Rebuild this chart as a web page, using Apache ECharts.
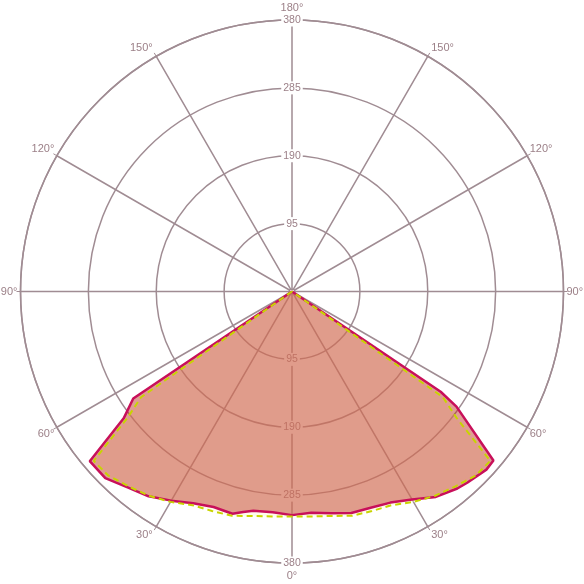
<!DOCTYPE html>
<html><head><meta charset="utf-8">
<script src="https://cdn.jsdelivr.net/npm/echarts@6/dist/echarts.min.js"></script>
<style>html,body{margin:0;padding:0;background:#fff}#c{width:584px;height:584px}</style>
</head><body><div id="c"></div>
<script>
// radius scale / ticks
const radiusMax = 380;
const radiusStep = 95;
const angleStep = 30;

// red (solid) curve, angle measured from the downward direction (degrees)
const redRightAngles = [0, 5, 10, 15, 20, 25, 30, 35, 40, 42.5, 47.5, 50, 55, 56, 60];
const redRightValues = [313, 311, 315, 321, 322, 326, 336, 351, 360, 363, 369, 368, 281, 251, 0];
const redLeftAngles  = [0, 5, 10, 12.5, 15, 20, 25, 30, 35, 40, 45, 50, 53, 56, 60];
const redLeftValues  = [313, 310, 311.5, 316, 322, 321, 327, 338, 350, 358, 369.5, 369.5, 295, 268, 0];

// yellow (dashed) curve, same on both sides
const yellowAngles = [0, 5, 10, 15, 20, 25, 30, 35, 40, 45, 49.5, 52.5, 55, 60];
const yellowValues = [315, 316, 319, 325, 327, 330, 340, 349, 356, 364, 365, 290, 258, 0];

function build(leftA, leftV, rightA, rightV) {
  const pts = [];
  for (let i = leftA.length - 1; i >= 0; i--) {
    pts.push([leftV[i], leftA[i] === 0 ? 0 : 360 - leftA[i]]);
  }
  for (let i = 1; i < rightA.length; i++) pts.push([rightV[i], rightA[i]]);
  return pts;
}
const redData = build(redLeftAngles, redLeftValues, redRightAngles, redRightValues);
const yellowData = build(yellowAngles, yellowValues, yellowAngles, yellowValues);

const gridColor = '#a08c93';
const labelColor = '#9c8088';
const font = 'Liberation Sans';
const C = [292, 291.5], R = 271.5;

const radiusLabel = {
  formatter: v => (v === 0 ? '' : String(v)),
  color: labelColor, fontSize: 10.5, fontFamily: font,
  margin: 0, align: 'center', verticalAlign: 'middle',
  backgroundColor: '#fff', padding: [1, 2]
};

const chart = echarts.init(document.getElementById('c'), null, {renderer: 'canvas'});
chart.setOption({
  animation: false,
  backgroundColor: '#fff',
  polar: [{center: C, radius: R}, {center: C, radius: R}],
  angleAxis: [{
    polarIndex: 0, type: 'value', min: 0, max: 360, interval: angleStep,
    startAngle: 270, clockwise: false,
    axisLine: {show: true, lineStyle: {color: gridColor, width: 1.5}},
    axisTick: {show: true, length: 4, lineStyle: {color: gridColor, width: 1}},
    axisLabel: {
      formatter: v => {
        const t = (v <= 180 ? v : 360 - v) + '°';
        if (v === 0 || v === 180) return '{p|' + t + '}';
        if (v === 30 || v === 330 || v === 150 || v === 210) return '{q|' + t + '}';
        return t;
      },
      color: labelColor, fontSize: 11, fontFamily: font, margin: 3,
      rich: {
        p: {color: labelColor, fontSize: 11, fontFamily: font, padding: [4, 0, 4, 0]},
        q: {color: labelColor, fontSize: 11, fontFamily: font, padding: [0, 2, 0, 2]}
      }
    },
    splitLine: {show: true, lineStyle: {color: gridColor, width: 1.5}}
  }, {
    polarIndex: 1, type: 'value', min: 0, max: 360, interval: angleStep,
    startAngle: 90, clockwise: false,
    axisLine: {show: false}, axisTick: {show: false}, axisLabel: {show: false}, splitLine: {show: false}
  }],
  radiusAxis: [{
    polarIndex: 0, type: 'value', min: 0, max: radiusMax, interval: radiusStep,
    axisLine: {show: false}, axisTick: {show: false},
    axisLabel: radiusLabel,
    splitLine: {show: true, lineStyle: {color: gridColor, width: 1.5}}
  }, {
    polarIndex: 1, type: 'value', min: 0, max: radiusMax, interval: radiusStep,
    axisLine: {show: false}, axisTick: {show: false},
    axisLabel: radiusLabel,
    splitLine: {show: false}
  }],
  series: [{
    type: 'line', coordinateSystem: 'polar', polarIndex: 0, data: yellowData,
    symbol: 'none', lineStyle: {width: 0, color: '#fff'},
    areaStyle: {color: 'rgba(255,250,205,0.55)'}, z: 2
  }, {
    type: 'line', coordinateSystem: 'polar', polarIndex: 0, data: redData,
    symbol: 'none', lineStyle: {width: 2.5, color: '#c8105a'},
    areaStyle: {color: 'rgba(188,44,26,0.66)'}, z: 3
  }, {
    type: 'line', coordinateSystem: 'polar', polarIndex: 0, data: yellowData,
    symbol: 'none', lineStyle: {width: 2, color: '#c8d400', type: [6, 4]}, z: 4
  }]
});
</script></body></html>
